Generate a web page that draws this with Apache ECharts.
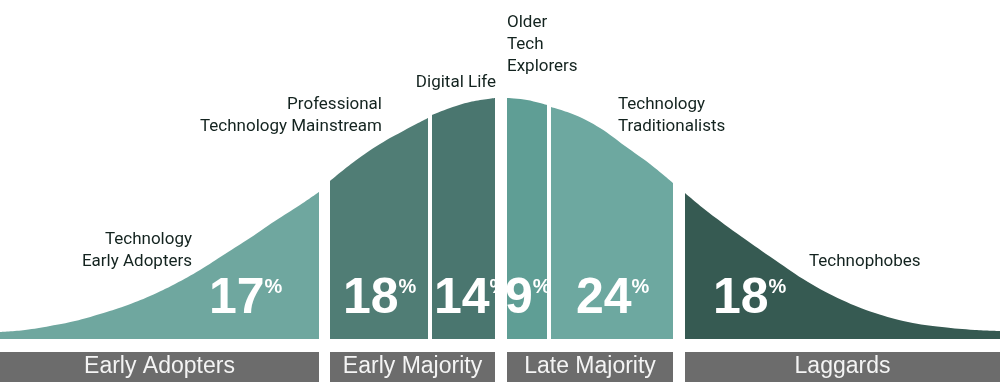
<!DOCTYPE html>
<html>
<head>
<meta charset="utf-8">
<script src="https://cdn.jsdelivr.net/npm/echarts@6/dist/echarts.min.js"></script>
<style>
html, body { margin: 0; padding: 0; background: #fff; }
#main { width: 1000px; height: 382px; }
</style>
</head>
<body>
<div id="main"></div>
<script>
// curve height, per segment: [x, height]
var curveEarly = [[0, 7], [25, 9], [50, 13], [75, 18], [100, 25], [125, 33], [150, 43], [175, 55], [200, 69], [225, 85], [250, 101], [275, 118], [300, 134], [319, 147]];
var curveMainstream = [[330, 158], [355, 178], [380, 195], [405, 209], [428, 221]];
var curveDigital = [[432, 224], [450, 231], [470, 237], [495, 241]];
var curveOlder = [[507, 241], [527, 239], [547, 234]];
var curveTraditional = [[551, 232], [575, 224], [600, 211], [625, 193], [650, 175], [673, 156]];
var curvePhobes = [[685, 146], [708, 127], [742, 102], [775, 79], [808, 57], [842, 39], [875, 26], [908, 17], [942, 12], [975, 9], [1000, 8]];

var segmentNames = ['Technology\nEarly Adopters', 'Professional\nTechnology Mainstream', 'Digital Life', 'Older\nTech\nExplorers', 'Technology\nTraditionalists', 'Technophobes'];
var segmentShares = [17, 18, 14, 9, 24, 18];
var segmentCurves = [curveEarly, curveMainstream, curveDigital, curveOlder, curveTraditional, curvePhobes];

var groupNames = ['Early Adopters', 'Early Majority', 'Late Majority', 'Laggards'];
var groupSpans = [[0, 319], [330, 495], [507, 673], [685, 1000]];

var segmentColors = ['#6fa79f', '#507d75', '#4a766f', '#5f9e95', '#6da8a0', '#365a52'];
// where the texts sit: [x, y, align]
var nameAnchors = [[192, 88, 'right'], [382, 223, 'right'], [496, 256, 'right'], [507, 294, 'left'], [618, 223, 'left'], [809, 77, 'left']];
var pctAnchorX = [209, 343, 434, 505, 576, 713];
var pctAnchorY = 40;

var nameFont = "Roboto, 'Liberation Sans', sans-serif";
var pctFont = "'Liberation Sans', Arial, sans-serif";

var myChart = echarts.init(document.getElementById('main'));

var series = [];
for (var i = 0; i < segmentCurves.length; ++i) {
    series.push({
        name: segmentNames[i],
        type: 'line',
        xAxisIndex: 0,
        yAxisIndex: 0,
        data: segmentCurves[i],
        smooth: 0.4,
        symbol: 'none',
        lineStyle: { width: 0 },
        areaStyle: { color: segmentColors[i], opacity: 1 },
        color: segmentColors[i],
        silent: true,
        markPoint: {
            symbol: 'circle',
            symbolSize: 1,
            itemStyle: { color: 'rgba(0,0,0,0)' },
            silent: true,
            animation: false,
            data: [{
                coord: [pctAnchorX[i], pctAnchorY],
                label: {
                    show: true,
                    position: 'inside',
                    align: 'left',
                    verticalAlign: 'middle',
                    formatter: '{n|' + segmentShares[i] + '}{p|%}',
                    rich: {
                        n: { fontSize: 50, fontWeight: 'bold', fontFamily: pctFont, color: '#ffffff', lineHeight: 50 },
                        p: { fontSize: 20, fontWeight: 'bold', fontFamily: pctFont, color: '#ffffff', lineHeight: 20, verticalAlign: 'top', padding: [3, 0, 0, 0] }
                    }
                }
            }, {
                coord: [nameAnchors[i][0], nameAnchors[i][1]],
                label: {
                    show: true,
                    position: 'inside',
                    align: nameAnchors[i][2],
                    verticalAlign: 'middle',
                    formatter: segmentNames[i],
                    fontSize: 17,
                    lineHeight: 22,
                    fontFamily: nameFont,
                    color: '#13231f'
                }
            }]
        }
    });
}

series.push({
    type: 'custom',
    xAxisIndex: 1,
    yAxisIndex: 1,
    silent: true,
    encode: { x: [0, 1] },
    data: groupSpans.map(function (s, k) { return [s[0], s[1], k]; }),
    renderItem: function (params, api) {
        var p0 = api.coord([api.value(0), 1]);
        var p1 = api.coord([api.value(1), 0]);
        return {
            type: 'rect',
            shape: { x: p0[0], y: p0[1], width: p1[0] - p0[0], height: p1[1] - p0[1] },
            style: { fill: '#6c6c6c' },
            textContent: {
                style: {
                    text: groupNames[params.dataIndex],
                    fill: '#f4f4f4',
                    font: "23px 'Liberation Sans', Arial, sans-serif"
                }
            },
            textConfig: { position: 'inside' }
        };
    }
});

var option = {
    animation: false,
    grid: [
        { left: 0, right: 0, top: 0, bottom: 43 },
        { left: 0, right: 0, top: 352, height: 30 }
    ],
    xAxis: [
        { type: 'value', gridIndex: 0, min: 0, max: 1000, show: false },
        { type: 'value', gridIndex: 1, min: 0, max: 1000, show: false }
    ],
    yAxis: [
        { type: 'value', gridIndex: 0, min: 0, max: 339, show: false },
        { type: 'value', gridIndex: 1, min: 0, max: 1, show: false }
    ],
    series: series
};
myChart.setOption(option, true);
</script>
</body>
</html>
